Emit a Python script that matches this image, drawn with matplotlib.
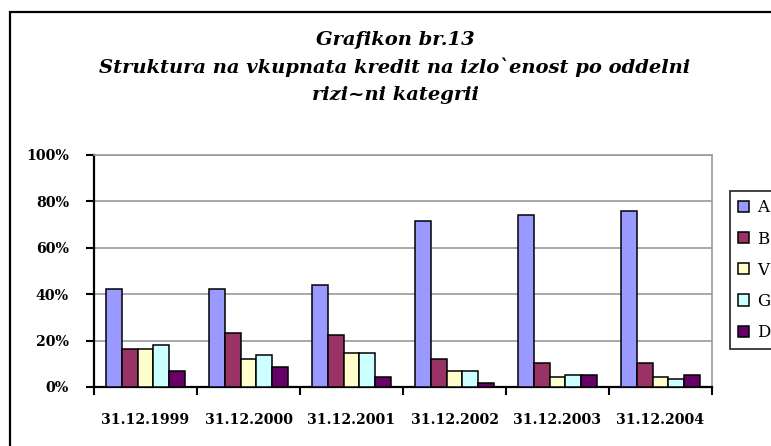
import numpy as np
import matplotlib
matplotlib.use("Agg")
import matplotlib.pyplot as plt
from matplotlib.patches import Rectangle, Patch
from matplotlib.ticker import PercentFormatter

# Data
dates = ["31.12.1999", "31.12.2000", "31.12.2001", "31.12.2002", "31.12.2003", "31.12.2004"]
series_names = ["A", "B", "V", "G", "D"]
cat_a = [42.1, 42.1, 44.0, 71.6, 74.1, 75.9]
cat_b = [16.2, 23.3, 22.4, 12.1, 10.5, 10.5]
cat_v = [16.2, 12.1, 14.7, 6.9, 4.2, 4.2]
cat_g = [18.1, 13.8, 14.7, 6.9, 5.0, 3.4]
cat_d = [7.0, 8.6, 4.3, 1.7, 5.2, 5.2]
colors = ["#9999FF", "#993366", "#FFFFCC", "#CCFFFF", "#660066"]

title_lines = [
    "Grafikon br.13",
    "Struktura na vkupnata kredit na izlo`enost po oddelni",
    "rizi~ni kategrii",
]

W, H = 771, 446
fig = plt.figure(figsize=(W / 100, H / 100), dpi=100)

# outer chart border (cut off on right and bottom)
fig.add_artist(Rectangle((10 / W, -0.1), 1.2, 1 - 12 / H + 0.1, transform=fig.transFigure,
                         fill=False, edgecolor="black", linewidth=1.6))

ax = fig.add_axes([94 / W, 1 - 387 / H, (712 - 94) / W, (387 - 155) / H])

values = [cat_a, cat_b, cat_v, cat_g, cat_d]
x = np.arange(len(dates))
bw = 1 / 6.5
for i, (vals, c) in enumerate(zip(values, colors)):
    ax.bar(x + (i - 2) * bw, vals, width=bw, color=c, edgecolor="black", linewidth=1.1,
           zorder=3)

ax.set_xlim(-0.5, len(dates) - 0.5)
ax.set_ylim(0, 100)
ax.set_yticks(range(0, 101, 20))
ax.yaxis.set_major_formatter(PercentFormatter(decimals=0))
ax.grid(axis="y", color="#999999", linewidth=1.2, zorder=0)

ax.set_xticks(x)
ax.set_xticklabels(dates)
ax.set_xticks(np.arange(-0.5, len(dates)), minor=True)
ax.tick_params(axis="x", which="major", length=0, pad=19)
ax.tick_params(axis="x", which="minor", length=6, width=1.5, direction="out")
ax.tick_params(axis="y", length=6, width=1.5, direction="out", pad=12)

for lab in ax.get_xticklabels() + ax.get_yticklabels():
    lab.set_family("DejaVu Serif")
    lab.set_fontweight("bold")
    lab.set_fontsize(10.2)

for s in ["left", "bottom"]:
    ax.spines[s].set_linewidth(1.6)
    ax.spines[s].set_color("black")
for s in ["top", "right"]:
    ax.spines[s].set_linewidth(1.2)
    ax.spines[s].set_color("#999999")

# title
for i, line in enumerate(title_lines):
    fig.text(395 / W, 1 - (40 + 27.5 * i) / H, line, ha="center", va="center",
             family="DejaVu Serif", fontweight="bold", style="italic", fontsize=14)

# legend
handles = [Patch(facecolor=c, edgecolor="black", linewidth=1.1) for c in colors]
leg = fig.legend(handles, series_names, loc="upper left",
                 bbox_to_anchor=(730 / W, 1 - 191 / H), bbox_transform=fig.transFigure,
                 frameon=True, fancybox=False, handlelength=0.65, handleheight=0.65,
                 handletextpad=0.5, labelspacing=0.85, borderpad=0.5, borderaxespad=0,
                 prop={"family": "DejaVu Serif", "size": 12})
leg.get_frame().set_edgecolor("black")
leg.get_frame().set_linewidth(1.3)

fig.savefig("out.png", dpi=100)
